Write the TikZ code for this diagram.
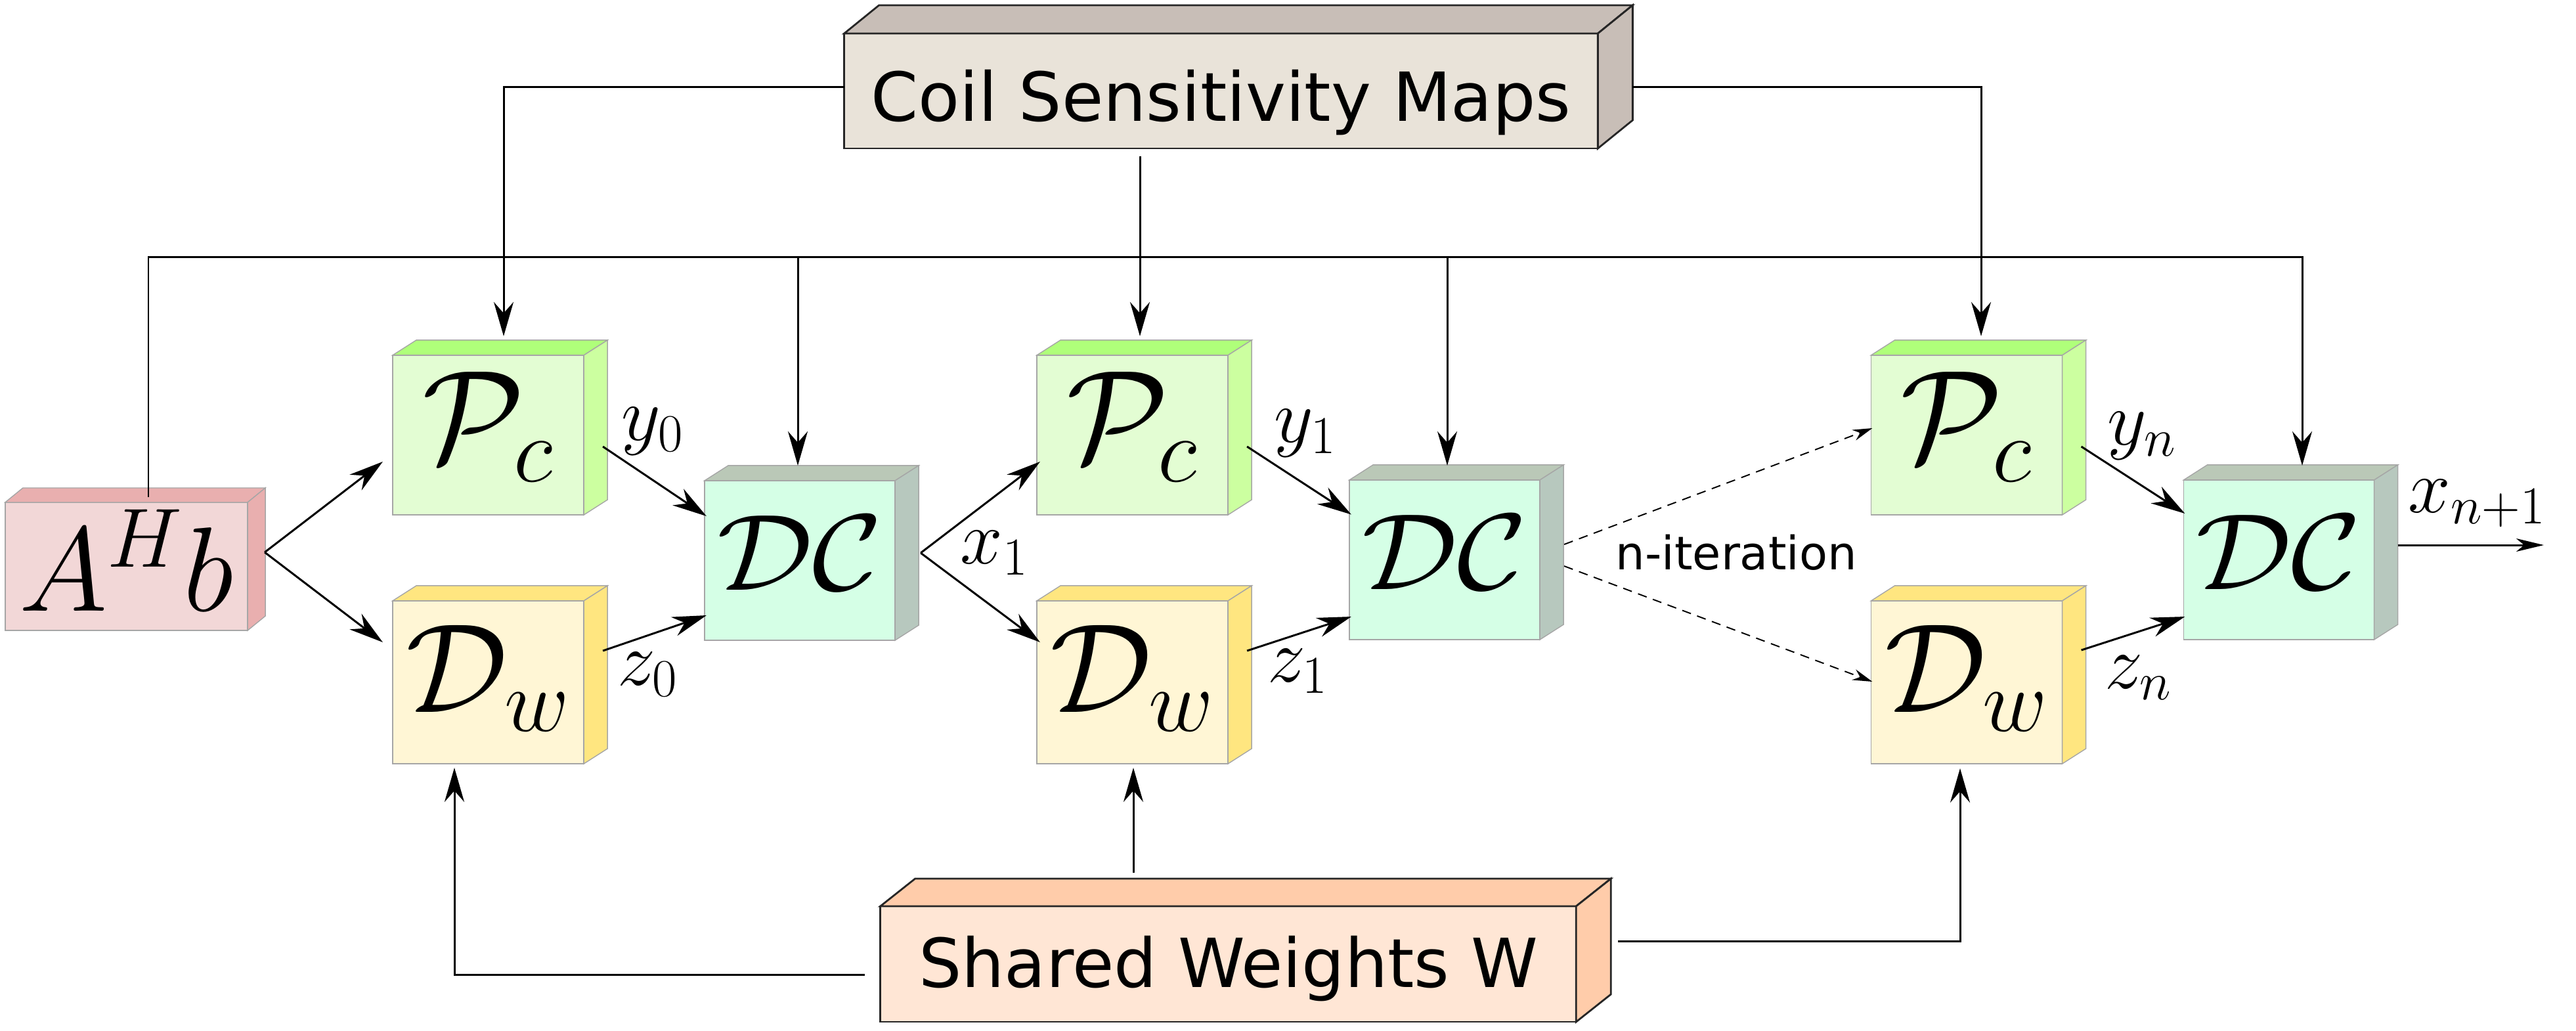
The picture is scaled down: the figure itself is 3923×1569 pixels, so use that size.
\RequirePackage{fix-cm}
\documentclass[tikz,border=0pt]{standalone}
\usepackage{fontspec}
\newfontfamily\dejavu{DejaVu Sans}
\usetikzlibrary{arrows.meta,calc}
\definecolor{ahbF}{HTML}{F2D7D7}
\definecolor{ahbS}{HTML}{E9AFAF}
\definecolor{pcF}{HTML}{E3FDD3}
\definecolor{pcT}{HTML}{AFFF7A}
\definecolor{pcS}{HTML}{CCFFA0}
\definecolor{dwF}{HTML}{FFF6D5}
\definecolor{dwS}{HTML}{FFE680}
\definecolor{dcF}{HTML}{D5FFE6}
\definecolor{dcT}{HTML}{BAC8B7}
\definecolor{dcS}{HTML}{B7C8BE}
\definecolor{coilF}{HTML}{E9E3D9}
\definecolor{coilS}{HTML}{C8BEB7}
\definecolor{swF}{HTML}{FFE6D5}
\definecolor{swS}{HTML}{FFCCAA}
\newcommand\cubefaces[6]{%
  \filldraw[fill=#4,#6] (#1.north west) -- ($(#1.north west)+(#2,-#3)$) -- ($(#1.north east)+(#2,-#3)$) -- (#1.north east) -- cycle;
  \filldraw[fill=#5,#6] (#1.north east) -- ($(#1.north east)+(#2,-#3)$) -- ($(#1.south east)+(#2,-#3)$) -- (#1.south east) -- cycle;
}
\tikzset{
  cube/.style={rectangle, draw=black!35, line width=0.4pt, inner sep=0pt, outer sep=0pt, text depth=0pt},
  bigcube/.style={rectangle, draw=black!85, line width=0.8pt, inner sep=0pt, outer sep=0pt, text depth=0pt},
  thinedge/.style={draw=black!35, line width=0.4pt},
  boldedge/.style={draw=black!85, line width=0.8pt},
  conn/.style={line width=0.85pt},
  arr/.style={conn, -{Stealth[length=0.52cm,width=0.3cm,inset=0.17cm]}},
  darr/.style={line width=0.55pt, dash pattern=on 0.14cm off 0.1cm, -{Stealth[length=0.3cm,width=0.17cm,inset=0.1cm]}},
  outarr/.style={conn, -{Stealth[length=0.42cm,width=0.2cm,inset=0.12cm]}},
  lbl/.style={anchor=base west, inner sep=0pt, font=\fontsize{33}{40}\selectfont},
  pcbox/.style={cube, fill=pcF, minimum width=2.91cm, minimum height=2.43cm, text height=0.81cm, font=\fontsize{57}{64}\selectfont},
  dwbox/.style={cube, fill=dwF, minimum width=2.91cm, minimum height=2.48cm, text height=0.9cm, font=\fontsize{55}{62}\selectfont},
  dcbox/.style={cube, fill=dcF, minimum width=2.90cm, minimum height=2.43cm, text height=0.89cm, font=\fontsize{47}{54}\selectfont},
}
\begin{document}
\begin{tikzpicture}[x=0.01cm,y=-0.01cm]
\useasboundingbox (0,0) rectangle (3923,1569);
% boxes
\node[cube, fill=ahbF, minimum width=3.69cm, minimum height=1.95cm, text height=1.35cm, font=\fontsize{52}{60}\selectfont] (ahb) at (192.5,862.5) {$A^{H}b$};
\cubefaces{ahb}{27}{22}{ahbS}{ahbS}{thinedge}
\node[bigcube, fill=coilF, minimum width=11.47cm, minimum height=1.75cm, text height=0.91cm, font=\dejavu\fontsize{29.3}{35}\selectfont] (coil) at (1859.5,138.5) {Coil Sensitivity Maps};
\cubefaces{coil}{53}{43}{coilS}{coilS}{boldedge}
\node[bigcube, fill=swF, minimum width=10.59cm, minimum height=1.76cm, text height=0.70cm, font=\dejavu\fontsize{29.3}{35}\selectfont] (sw) at (1870.5,1468) {Shared Weights W};
\cubefaces{sw}{53}{42}{swS}{swS}{boldedge}
\node[pcbox] (pc0) at (743.5,662.5) {$\mathcal{P}_c$};
\node[pcbox] (pc1) at (1724.5,662.5) {$\mathcal{P}_c$};
\node[pcbox] (pcn) at (2995,662.5) {$\mathcal{P}_c$};
\node[dwbox] (dw0) at (743.5,1039) {$\mathcal{D}_w$};
\node[dwbox] (dw1) at (1724.5,1039) {$\mathcal{D}_w$};
\node[dwbox] (dwn) at (2995,1039) {$\mathcal{D}_w$};
\node[dcbox] (dc0) at (1218,853.5) {\scalebox{1.1}[1]{$\mathcal{DC}$}};
\node[dcbox] (dc1) at (2200,852.5) {\scalebox{1.1}[1]{$\mathcal{DC}$}};
\node[dcbox] (dcn) at (3470.5,852.5) {\scalebox{1.1}[1]{$\mathcal{DC}$}};
\foreach \n in {pc0,pc1,pcn}{\cubefaces{\n}{36}{23}{pcT}{pcS}{thinedge}}
\foreach \n in {dw0,dw1,dwn}{\cubefaces{\n}{36}{23}{dwS}{dwS}{thinedge}}
\foreach \n in {dc0,dc1,dcn}{\cubefaces{\n}{36}{23}{dcT}{dcS}{thinedge}}
% text
\node[anchor=base west, inner sep=0pt, font=\dejavu\fontsize{20}{24}\selectfont] (nit) at (2460,867) {n-iteration};
\node[lbl] (ly0) at (946,670) {$y_0$};
\node[lbl] (lz0) at (940,1043) {$z_0$};
\node[lbl] (lx1) at (1462,858) {$x_1$};
\node[lbl] (ly1) at (1940,673) {$y_1$};
\node[lbl] (lz1) at (1930,1038) {$z_1$};
\node[lbl] (lyn) at (3209,677) {$y_n$};
\node[lbl] (lzn) at (3205,1048) {$z_n$};
\node[lbl] (lxn) at (3667,780) {$x_{n+1}$};
% connectors
\coordinate (bus) at (0,392);
\draw[arr] ($(ahb.north)+(33.5,-8)$) |- ($(dcn.north)+(35.5,-339)$) -- ($(dcn.north)+(35.5,-22)$);
\draw[arr] ($(dc0.north |- bus)+(-3,0)$) -- ($(dc0.north)+(-3,-23)$);
\draw[arr] ($(dc1.north |- bus)+(4,0)$) -- ($(dc1.north)+(4,-22)$);
\draw[arr] ($(coil.west)+(0,-6.5)$) -| ($(pc0.north)+(23.5,-29)$);
\draw[arr] ($(coil.south)+(-123.5,12)$) -- ($(pc1.north)+(11.5,-29)$);
\draw[arr] ($(coil.east)+(53,-6.5)$) -| ($(pcn.north)+(22,-29)$);
\draw[arr] ($(sw.west)+(-24,16)$) -| ($(dw0.south)+(-51.5,6)$);
\draw[arr] ($(sw.north)+(-144.5,-51)$) -- ($(dw1.south)+(1.5,6)$);
\draw[arr] ($(sw.east)+(64,-35)$) -| ($(dwn.south)+(-10,7)$);
\draw[arr] ($(ahb.east)+(26,-21.5)$) -- ($(pc0.west)+(-15,40.5)$);
\draw[arr] ($(ahb.east)+(26,-21.5)$) -- ($(dw0.west)+(-15,-61)$);
\draw[arr] ($(pc0.east)+(29,17.5)$) -- ($(dc0.west)+(3,-67.5)$);
\draw[arr] ($(dw0.east)+(29,-48)$) -- ($(dc0.west)+(3,83.5)$);
\draw[arr] ($(dc0.east)+(39,-11.5)$) -- ($(pc1.west)+(5,40.5)$);
\draw[arr] ($(dc0.east)+(39,-11.5)$) -- ($(dw1.west)+(5,-61)$);
\draw[arr] ($(pc1.east)+(29,17.5)$) -- ($(dc1.west)+(3,-69)$);
\draw[arr] ($(dw1.east)+(29,-48)$) -- ($(dc1.west)+(3,86.5)$);
\draw[darr] ($(dc1.east)+(37,-23.5)$) -- ($(pcn.west)+(2,-10.5)$);
\draw[darr] ($(dc1.east)+(37,9.5)$) -- ($(dwn.west)+(2,-1)$);
\draw[arr] ($(pcn.east)+(29,17.5)$) -- ($(dcn.west)+(2,-70.5)$);
\draw[arr] ($(dwn.east)+(29,-49)$) -- ($(dcn.west)+(2,86.5)$);
\coordinate (outend) at (3874,830);
\draw[outarr] ($(dcn.east)+(36,-22.5)$) -- (outend);
\end{tikzpicture}
\end{document}
